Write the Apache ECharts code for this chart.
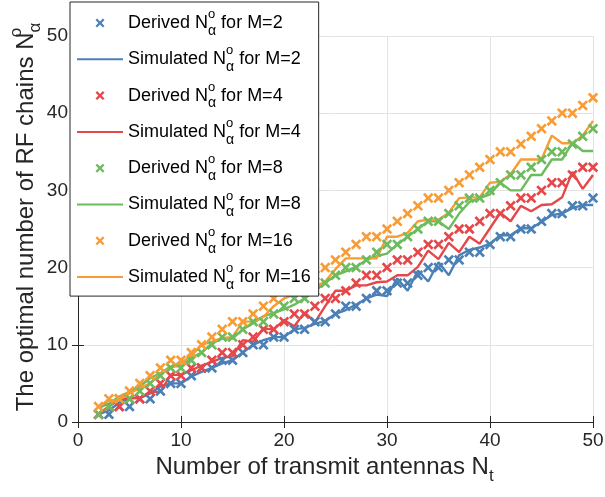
<!DOCTYPE html>
<html>
<head>
<meta charset="utf-8">
<script src="https://cdn.jsdelivr.net/npm/echarts/dist/echarts.min.js"></script>
<style>
  html, body { margin: 0; padding: 0; background: #ffffff; }
  #chart { width: 605px; height: 497px; }
</style>
</head>
<body>
<div id="chart"></div>
<script>
// Number of transmit antennas N_t
const antennas = [2, 3, 4, 5, 6, 7, 8, 9, 10, 11, 12, 13, 14, 15, 16, 17, 18, 19, 20, 21, 22, 23, 24, 25, 26,
  27, 28, 29, 30, 31, 32, 33, 34, 35, 36, 37, 38, 39, 40, 41, 42, 43, 44, 45, 46, 47, 48, 49, 50];

// Derived optimal number of RF chains
const derivedM2 = [1, 1, 2, 2, 3, 3, 4, 5, 5, 6, 7, 7, 8, 8, 9, 10, 10, 11, 11, 12, 12, 13, 13, 14, 15,
  15, 16, 17, 17, 18, 18, 19, 20, 20, 21, 21, 22, 22, 23, 24, 24, 25, 25, 26, 27, 27, 28, 28, 29];
const derivedM4 = [1, 2, 2, 3, 3, 4, 5, 6, 6, 7, 7, 8, 9, 9, 10, 11, 12, 12, 13, 14, 14, 15, 16, 16, 17,
  18, 19, 19, 20, 21, 21, 22, 23, 23, 24, 25, 25, 26, 27, 27, 28, 29, 29, 30, 31, 31, 32, 33, 33];
const derivedM8 = [1, 2, 3, 3, 4, 5, 6, 7, 7, 8, 9, 10, 11, 11, 12, 13, 13, 14, 15, 16, 16, 17, 18, 19, 20,
  20, 21, 22, 23, 23, 24, 25, 26, 26, 27, 28, 29, 29, 30, 31, 32, 32, 33, 34, 35, 35, 36, 37, 38];
const derivedM16 = [2, 3, 3, 4, 5, 6, 7, 8, 8, 9, 10, 11, 12, 13, 13, 14, 15, 16, 17, 18, 19, 19, 20, 21, 22,
  23, 24, 24, 25, 26, 27, 28, 29, 29, 30, 31, 32, 33, 34, 35, 35, 36, 37, 38, 39, 40, 40, 41, 42];

// Simulated optimal number of RF chains
const simulatedM2 = [1, 1.5, 2.5, 3.1, 3.1, 3.7, 4.6, 5, 5, 5.9, 6.5, 7, 7.6, 8, 9, 10, 10.6, 11, 11, 12, 12.2,
  12.7, 13.1, 14, 14.5, 15.2, 16, 16.5, 16.3, 18.6, 17, 19.6, 18.2, 20.7, 19, 21.6, 22.3, 22.6, 23.1,
  24.2, 24.2, 25.1, 25.1, 25.9, 26.8, 27, 27.7, 28.1, 28.1];
const simulatedM4 = [1.1, 2, 2.9, 3.1, 3.1, 3.9, 3.9, 6.1, 6.1, 6.7, 7.3, 7.8, 8.3, 8.5, 10.6, 10.4, 12.1, 12,
  13.2, 12.4, 14.2, 12.9, 15, 17, 17, 17.7, 17.7, 18.1, 18.2, 19, 19, 20.1, 22.2, 21.1, 23.2, 22, 24,
  23.1, 25.1, 27.1, 26, 28, 27.3, 28.1, 28.2, 29.1, 32.4, 30.2, 32];
const simulatedM8 = [1.8, 2.4, 3.3, 3.9, 4.6, 5.7, 6.3, 7.2, 7.2, 8.3, 9, 10.2, 10.8, 10.8, 12, 12.8, 13.7,
  14.1, 14.6, 15.2, 16, 17, 18, 19, 19.5, 20.1, 21, 21.5, 21.8, 23, 24, 25, 26, 26, 25, 27, 28.5, 29,
  29.5, 31, 30, 30, 32, 32, 34, 34, 36.2, 35.1, 35.1];
const simulatedM16 = [2, 2.8, 2.9, 3.7, 4.4, 5, 6.3, 7, 7.6, 8.6, 10, 10.4, 10.9, 11, 13, 13, 13.6, 15, 16,
  16.5, 17, 17.5, 18.2, 19.8, 21.2, 21.2, 21.2, 21.2, 24, 24, 24.5, 26, 26.2, 26.2, 27.1, 29, 29.1, 29.1,
  31, 31.1, 32.1, 34, 34, 34, 37.1, 36.1, 36.1, 37.1, 39];

// Axis tick values
const xTicks = [0, 10, 20, 30, 40, 50];
const yTicks = [0, 10, 20, 30, 40, 50];

const groups = [
  { m: '2', color: '#4b80b6', derived: derivedM2, simulated: simulatedM2 },
  { m: '4', color: '#e5474a', derived: derivedM4, simulated: simulatedM4 },
  { m: '8', color: '#6cbb5d', derived: derivedM8, simulated: simulatedM8 },
  { m: '16', color: '#f89c36', derived: derivedM16, simulated: simulatedM16 }
];

const FONT = '"Liberation Sans", Arial, Helvetica, sans-serif';
const AXIS_COLOR = '#262626';
const crossSymbol = 'path://M0,1.8 L1.8,0 L5,3.2 L8.2,0 L10,1.8 L6.8,5 L10,8.2 L8.2,10 L5,6.8 L1.8,10 L0,8.2 L3.2,5 Z';

const pairs = (ys) => antennas.map((n, i) => [n, ys[i]]);

const series = [];
const legendItems = [];
const legendInfo = {};
groups.forEach((g) => {
  const dName = 'derived-' + g.m;
  const sName = 'simulated-' + g.m;
  legendInfo[dName] = { kind: 'Derived', m: g.m };
  legendInfo[sName] = { kind: 'Simulated', m: g.m };
  legendItems.push({ name: dName });
  // line entries show only the stroke, no marker
  legendItems.push({ name: sName, itemStyle: { opacity: 0 } });
  series.push({
    name: dName,
    type: 'scatter',
    data: pairs(g.derived),
    symbol: crossSymbol,
    symbolSize: 10.5,
    symbolKeepAspect: true,
    itemStyle: { color: g.color, opacity: 1 },
    emphasis: { disabled: true },
    z: 3
  });
  series.push({
    name: sName,
    type: 'line',
    data: pairs(g.simulated),
    symbol: 'none',
    showSymbol: false,
    lineStyle: { color: g.color, width: 2.4 },
    itemStyle: { color: g.color },
    emphasis: { disabled: true },
    z: 3
  });
});

const richLegend = {
  t: { fontFamily: FONT, fontSize: 18, color: '#000', lineHeight: 30 },
  sup: { fontFamily: FONT, fontSize: 13, color: '#000', lineHeight: 18, verticalAlign: 'top', width: 0 },
  sub: { fontFamily: FONT, fontSize: 14, color: '#000', lineHeight: 8, verticalAlign: 'bottom' }
};

const axisBase = {
  type: 'value',
  min: 0,
  max: 50,
  interval: 10,
  axisLine: { show: true, lineStyle: { color: AXIS_COLOR, width: 1 } },
  axisTick: { show: true, inside: true, length: 6, lineStyle: { color: AXIS_COLOR } }
};

const chart = echarts.init(document.getElementById('chart'), null, { renderer: 'canvas' });
chart.setOption({
  animation: false,
  backgroundColor: '#ffffff',
  grid: { left: 78, right: 12, top: 36, bottom: 75, containLabel: false, outerBoundsMode: 'none' },
  xAxis: [
    Object.assign({}, axisBase, {
      position: 'bottom',
      axisLabel: {
        fontFamily: FONT, fontSize: 19, color: AXIS_COLOR, margin: 9,
        formatter: (v) => (xTicks.includes(v) ? String(v) : '')
      },
      splitLine: { show: true, lineStyle: { color: '#e3e3e3', width: 1 } },
      name: '{t|Number of transmit antennas N}{sub|t}',
      nameLocation: 'middle',
      nameGap: 26,
      nameTextStyle: {
        padding: [0, 22, 0, 0],
        rich: {
          t: { fontFamily: FONT, fontSize: 24, color: AXIS_COLOR, lineHeight: 36 },
          sub: { fontFamily: FONT, fontSize: 17, color: AXIS_COLOR, lineHeight: 12, verticalAlign: 'bottom' }
        }
      }
    }),
    Object.assign({}, axisBase, {
      position: 'top',
      axisLabel: { show: false },
      splitLine: { show: false }
    })
  ],
  yAxis: [
    Object.assign({}, axisBase, {
      position: 'left',
      axisLabel: {
        fontFamily: FONT, fontSize: 19, color: AXIS_COLOR, margin: 10,
        formatter: (v) => (yTicks.includes(v) ? String(v) : '')
      },
      splitLine: { show: true, lineStyle: { color: '#e3e3e3', width: 1 } },
      name: '{t|The optimal number of RF chains N}{sup|o}{sub|α}',
      nameLocation: 'middle',
      nameGap: 34,
      nameMoveOverlap: false,
      nameTextStyle: {
        padding: [0, 0, 0, 24],
        rich: {
          t: { fontFamily: FONT, fontSize: 24, color: AXIS_COLOR, lineHeight: 36 },
          sup: { fontFamily: FONT, fontSize: 17, color: AXIS_COLOR, lineHeight: 20, verticalAlign: 'top', width: 0 },
          sub: { fontFamily: FONT, fontSize: 17, color: AXIS_COLOR, lineHeight: 10, verticalAlign: 'bottom' }
        }
      }
    }),
    Object.assign({}, axisBase, {
      position: 'right',
      axisLabel: { show: false },
      splitLine: { show: false }
    })
  ],
  legend: {
    orient: 'vertical',
    left: 70,
    top: 2,
    padding: [6, 8, 4, 6],
    itemGap: 6.3,
    itemWidth: 46,
    itemHeight: 9,
    backgroundColor: '#ffffff',
    borderColor: AXIS_COLOR,
    borderWidth: 1,
    borderRadius: 0,
    selectedMode: false,
    data: legendItems,
    formatter: (name) => {
      const info = legendInfo[name];
      return '{t|' + info.kind + ' N}{sup|o}{sub|α}{t| for M=' + info.m + '}';
    },
    textStyle: { rich: richLegend }
  },
  series: series
});
</script>
</body>
</html>
